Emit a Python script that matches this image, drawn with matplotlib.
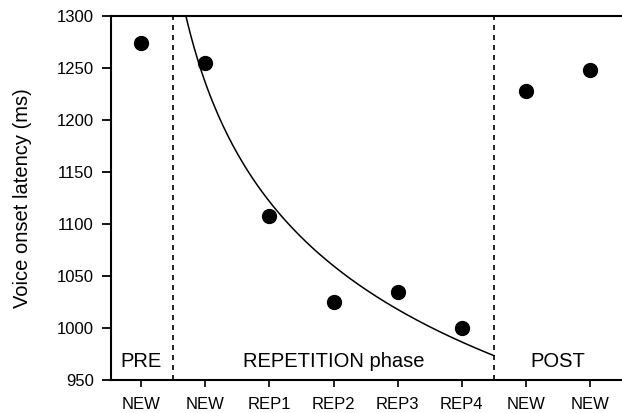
import numpy as np
import matplotlib

matplotlib.use("Agg")
import matplotlib.pyplot as plt

plt.rcParams["font.family"] = ["Liberation Sans", "DejaVu Sans"]

# mean voice onset latency per block (ms)
tick_labels = ["NEW", "NEW", "REP1", "REP2", "REP3", "REP4", "NEW", "NEW"]
latency = [1274, 1255, 1108, 1025, 1035, 1000, 1228, 1248]
phase_names = ["PRE", "REPETITION phase", "POST"]
phase_centers = [0, 3, 6.5]
phase_bounds = [0.5, 5.5]

x = np.arange(len(latency))
y = np.array(latency, dtype=float)

# power-law fit over the repetition phase (positions 1..5)
rep = slice(1, 6)
slope, icpt = np.polyfit(np.log(x[rep]), np.log(y[rep]), 1)
t = np.linspace(0.5, 5.5, 200)
fit = np.exp(icpt) * t ** slope

fig = plt.figure(figsize=(6.22, 4.13), dpi=100)
ax = fig.add_axes([0.1785, 0.080, 0.83, 0.881])

ax.plot(t, fit, color="black", linewidth=1.1, zorder=2)
ax.plot(x, y, "o", color="black", markersize=10, zorder=3)

for b in phase_bounds:
    ax.axvline(b, color="black", linestyle=(0, (3, 3)), linewidth=1.2, zorder=1)

for name, cx in zip(phase_names, phase_centers):
    ax.text(cx, 968, name, ha="center", va="center", fontsize=14.5)

ax.set_xlim(-0.47, 7.58)
ax.set_ylim(950, 1300)
ax.set_yticks(np.arange(950, 1301, 50))
ax.set_xticks(x)
ax.set_xticklabels(tick_labels, fontsize=12)
ax.tick_params(axis="y", labelsize=12, length=6.5, width=1.3, pad=6)
ax.tick_params(axis="x", length=5, width=1.2, pad=7)
ax.set_ylabel("Voice onset latency (ms)", fontsize=14.5)
ax.yaxis.set_label_coords(-0.153, 0.5)

for side in ["left", "top", "bottom"]:
    ax.spines[side].set_linewidth(1.5)
ax.spines["right"].set_visible(False)

fig.savefig("out.png", dpi=100)
